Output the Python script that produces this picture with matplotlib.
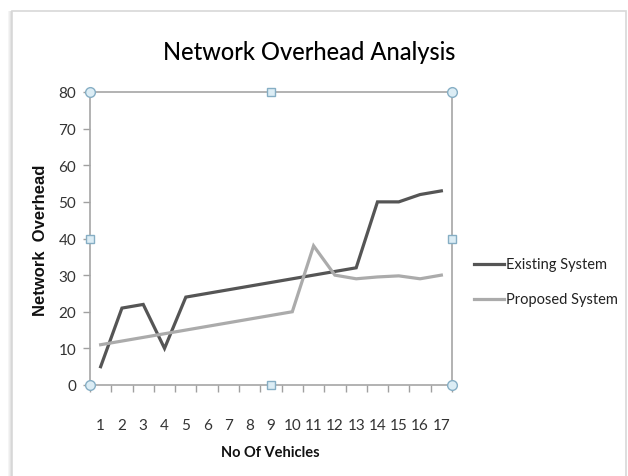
import matplotlib
matplotlib.use("Agg")
import matplotlib.pyplot as plt
from matplotlib.patches import Rectangle

vehicles = list(range(1, 18))
existing_system = [5, 21, 22, 10, 24, 25, 26, 27, 28, 29, 30, 31, 32, 50, 50, 52, 53]
proposed_system = [11, 12, 13, 14, 15, 16, 17, 18, 19, 20, 38, 30, 29, 29.5, 29.8, 29, 30]
y_ticks = [0, 10, 20, 30, 40, 50, 60, 70, 80]

W, H = 628, 477
fig = plt.figure(figsize=(W / 100, H / 100), dpi=100)
fig.patch.set_facecolor("white")

label_font = ["Lato", "DejaVu Sans"]

# chart area frame with a soft shadow on the left
frame_top = (H - 12) / H
for i, a in enumerate([0.04, 0.07, 0.11, 0.16]):
    fig.patches.append(Rectangle(((8 + i) / W, -0.1), 1 / W, frame_top + 0.1,
                                 transform=fig.transFigure, color="black",
                                 alpha=a, lw=0, zorder=0))
fig.patches.append(Rectangle((12 / W, -0.1), (626 - 12) / W, frame_top + 0.1,
                             transform=fig.transFigure, facecolor="white",
                             edgecolor="#d8d8d8", lw=1.2, zorder=0.5))

left, right, top, bottom = 90, 452, 93, 386
ax = fig.add_axes([left / W, (H - bottom) / H, (right - left) / W, (bottom - top) / H])
ax.set_facecolor("none")
ax.set_zorder(2)

ax.plot(vehicles, existing_system, color="#555555", lw=2.3, label="Existing System",
        solid_joinstyle="miter", zorder=3)
ax.plot(vehicles, proposed_system, color="#ababab", lw=2.3, label="Proposed System",
        solid_joinstyle="miter", zorder=3)

ax.set_xlim(0.5, 17.5)
ax.set_ylim(0, 80)
ax.set_yticks(y_ticks)
ax.set_yticklabels([str(v) for v in y_ticks], fontfamily=label_font, fontsize=11,
                   color="#333333")
ax.set_xticks(vehicles)
ax.set_xticklabels([str(v) for v in vehicles], fontfamily=label_font, fontsize=11,
                   color="#333333")
ax.set_xticks([v + 0.5 for v in range(0, 18)], minor=True)
ax.tick_params(axis="x", which="major", length=0, pad=24)
ax.tick_params(axis="x", which="minor", length=5, color="#a0a0a0", width=1)
ax.tick_params(axis="y", which="major", length=5, color="#a0a0a0", width=1, pad=5)

for s in ax.spines.values():
    s.set_color("#a6a6a6")
    s.set_linewidth(1.2)

# selection handles on the plot area
handle_face = "#dcedf5"
handle_edge = "#86aec4"
for (hx, hy) in [(0.5, 0), (17.5, 0), (0.5, 80), (17.5, 80)]:
    ax.plot(hx, hy, marker="o", ms=7, mfc=handle_face, mec=handle_edge, mew=1,
            clip_on=False, zorder=5)
for (hx, hy) in [(9, 0), (9, 80), (0.5, 40), (17.5, 40)]:
    ax.plot(hx, hy, marker="s", ms=6, mfc=handle_face, mec=handle_edge, mew=1,
            clip_on=False, zorder=5)

fig.text(309 / W, 1 - 52 / H, "Network Overhead Analysis", ha="center", va="center",
         fontsize=17, fontweight="medium", fontfamily=label_font, color="#000000",
         zorder=3)
fig.text(270 / W, 1 - 453 / H, "No Of Vehicles", ha="center", va="center",
         fontsize=10.5, fontweight="bold", fontfamily=label_font, color="#111111",
         zorder=3)
fig.text(41 / W, 1 - 240 / H, "Network  Overhead", ha="center", va="center",
         rotation=90, fontsize=12, fontweight="bold",
         fontfamily=["Liberation Sans", "DejaVu Sans"], color="#111111", zorder=3)

# legend
for (ly, lbl, col) in [(265, "Existing System", "#555555"),
                       (300, "Proposed System", "#ababab")]:
    fig.add_artist(plt.Line2D([474 / W, 504 / W], [1 - ly / H, 1 - ly / H],
                              color=col, lw=2.3, transform=fig.transFigure, zorder=3))
    fig.text(506 / W, 1 - ly / H, lbl, ha="left", va="center", fontsize=10.5,
             fontfamily=label_font, color="#222222", zorder=3)

fig.savefig("out.png", dpi=100)
